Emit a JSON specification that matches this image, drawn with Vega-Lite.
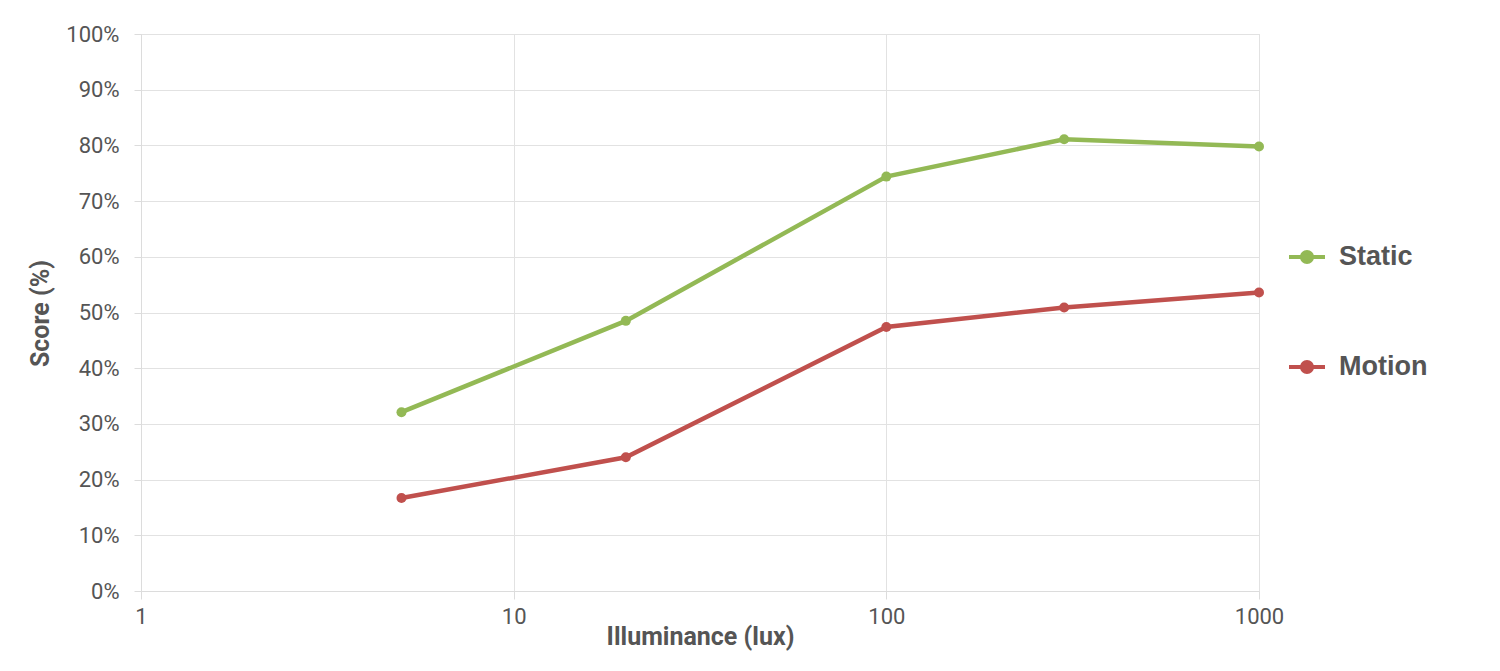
{
  "$schema": "https://vega.github.io/schema/vega-lite/v6.json",
  "width": 1118,
  "height": 557,
  "autosize": {"type": "none"},
  "padding": {"left": 141, "top": 34, "right": 241, "bottom": 80},
  "background": "white",
  "data": {
    "values": [
      {"lux": 5, "score": 0.321, "series": "Static"},
      {"lux": 20, "score": 0.485, "series": "Static"},
      {"lux": 100, "score": 0.744, "series": "Static"},
      {"lux": 300, "score": 0.811, "series": "Static"},
      {"lux": 1000, "score": 0.798, "series": "Static"},
      {"lux": 5, "score": 0.167, "series": "Motion"},
      {"lux": 20, "score": 0.240, "series": "Motion"},
      {"lux": 100, "score": 0.474, "series": "Motion"},
      {"lux": 300, "score": 0.509, "series": "Motion"},
      {"lux": 1000, "score": 0.536, "series": "Motion"}
    ]
  },
  "config": {
    "view": {"stroke": "#dcdcdc", "strokeWidth": 1},
    "axis": {
      "gridColor": "#e2e2e2",
      "gridWidth": 1,
      "domainColor": "#dcdcdc",
      "tickColor": "#dcdcdc",
      "labelFont": "Roboto",
      "labelColor": "#555555",
      "labelFontSize": 22,
      "labelFlush": false,
      "titleFont": "Roboto",
      "titleFontWeight": "bold",
      "titleColor": "#555555",
      "titleFontSize": 25
    }
  },
  "mark": {"type": "line", "strokeWidth": 4.5, "point": {"filled": true, "size": 100}},
  "encoding": {
    "x": {
      "field": "lux",
      "type": "quantitative",
      "scale": {"type": "log", "domain": [1, 1000], "nice": false},
      "axis": {
        "values": [1, 10, 100, 1000],
        "labelExpr": "datum.value",
        "tickSize": 8,
        "labelPadding": 7,
        "title": "Illuminance (lux)",
        "titleY": 33,
        "titleBaseline": "top"
      }
    },
    "y": {
      "field": "score",
      "type": "quantitative",
      "scale": {"domain": [0, 1], "nice": false},
      "axis": {
        "values": [0, 0.1, 0.2, 0.3, 0.4, 0.5, 0.6, 0.7, 0.8, 0.9, 1],
        "format": ".0%",
        "tickSize": 7,
        "labelPadding": 15,
        "title": "Score (%)",
        "titleX": -101,
        "titleY": 279,
        "titleAngle": -90,
        "titleBaseline": "middle",
        "titleAlign": "center"
      }
    },
    "color": {
      "field": "series",
      "type": "nominal",
      "sort": ["Static", "Motion"],
      "scale": {"domain": ["Static", "Motion"], "range": ["#93b955", "#c0504d"]},
      "legend": {
        "title": null,
        "orient": "none",
        "legendX": 1146,
        "legendY": 203,
        "symbolType": "M-1,0L1,0M-0.28,0A0.28,0.28 0 1,1 0.28,0A0.28,0.28 0 1,1 -0.28,0Z",
        "symbolSize": 1296,
        "symbolStrokeWidth": 4,
        "labelFont": "Liberation Sans",
        "labelFontWeight": "bold",
        "labelFontSize": 27,
        "labelColor": "#555555",
        "labelOffset": 12,
        "rowPadding": 76
      }
    }
  }
}
